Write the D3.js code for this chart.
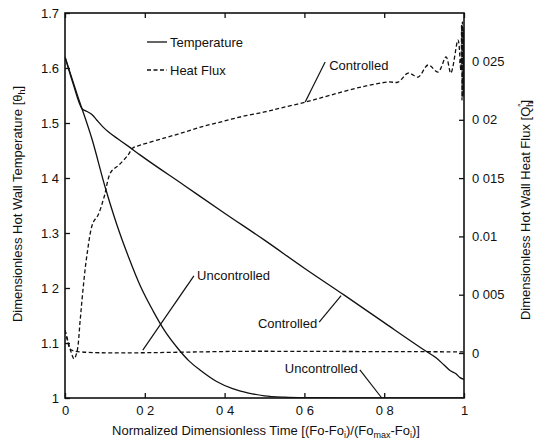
<!DOCTYPE html>
<html>
<head>
<meta charset="utf-8">
<script src="https://cdn.jsdelivr.net/npm/d3@7/dist/d3.min.js"></script>
<style>
  body { margin: 0; background: #fff; }
  svg text { font-family: "Liberation Sans", Arial, Helvetica, sans-serif; font-size: 13px; fill: #111; }
</style>
</head>
<body>
<div id="chart"></div>
<script>
// Data
const tTempUnc = [0, 0.03, 0.068, 0.1, 0.13, 0.16, 0.188, 0.221, 0.25, 0.283, 0.31, 0.34, 0.38, 0.42, 0.46, 0.5, 0.55, 0.6, 0.7, 0.8, 1]
const tempUnc = [1.62, 1.553, 1.47, 1.385, 1.315, 1.255, 1.205, 1.158, 1.122, 1.09, 1.068, 1.05, 1.03, 1.017, 1.009, 1.004, 1.0015, 1.0005, 1, 1, 1]

const tTempCtl = [0, 0.02, 0.0426, 0.055, 0.068, 0.08, 0.095, 0.11, 0.133, 0.16, 0.188, 0.3, 0.4, 0.5, 0.6, 0.7, 0.8, 0.907, 0.93, 0.95, 0.965, 0.98, 0.99, 1]
const tempCtl = [1.62, 1.572, 1.526, 1.521, 1.515, 1.505, 1.493, 1.483, 1.471, 1.457, 1.442, 1.386, 1.336, 1.287, 1.236, 1.187, 1.137, 1.084, 1.073, 1.06, 1.05, 1.044, 1.037, 1.034]

const tFluxCtl = [0, 0.008, 0.015, 0.0226, 0.03, 0.038, 0.045, 0.055, 0.07, 0.083, 0.098, 0.115, 0.135, 0.158, 0.17, 0.19, 0.25, 0.3, 0.35, 0.4, 0.45, 0.5, 0.541, 0.604, 0.667, 0.742, 0.81, 0.835, 0.86, 0.885, 0.91, 0.935, 0.955, 0.967, 0.985, 0.992, 0.994, 0.995, 0.996, 0.997, 0.998, 0.999, 1]
const fluxCtl = [0.00197, 0.00094, 0.0001, -0.0005, 0.0001, 0.0028, 0.0054, 0.0084, 0.01115, 0.01184, 0.01338, 0.01552, 0.01612, 0.01698, 0.01758, 0.01784, 0.01844, 0.01895, 0.01947, 0.0199, 0.02033, 0.02067, 0.02101, 0.02153, 0.02213, 0.02281, 0.02324, 0.02324, 0.02401, 0.02367, 0.0247, 0.0241, 0.02539, 0.02401, 0.02684, 0.02427, 0.02813, 0.0217, 0.0284, 0.0219, 0.0279, 0.0221, 0.0277]

const tFluxUnc = [0, 0.006, 0.012, 0.02, 0.5, 1]
const fluxUnc = [0.00197, 0.0011, 0.0004, 0.0002, 0.00015, 0.0001]

const xTicks = [0, 0.2, 0.4, 0.6, 0.8, 1]
const xTickLabels = ['0', '0 2', '0 4', '0 6', '0 8', '1']
const leftTicks = [1, 1.1, 1.2, 1.3, 1.4, 1.5, 1.6, 1.7]
const leftTickLabels = ['1', '1.1', '1 2', '1.3', '1 4', '1.5', '1.6', '1.7']
const rightTicks = [0, 0.005, 0.01, 0.015, 0.02, 0.025]
const rightTickLabels = ['0', '0 005', '0.01', '0 015', '0 02', '0 025']

// annotation anchors in data units (t, temperature)
const notes = [
  { text: 'Controlled', from: [0.652, 1.611], to: [0.602, 1.538], at: [0.662, 1.604], anchor: 'start' },
  { text: 'Controlled', from: [0.637, 1.138], to: [0.692, 1.186], at: [0.632, 1.136], anchor: 'end' },
  { text: 'Uncontrolled', from: [0.323, 1.222], to: [0.195, 1.087], at: [0.331, 1.222], anchor: 'start' },
  { text: 'Uncontrolled', from: [0.739, 1.051], to: [0.794, 1.0], at: [0.734, 1.053], anchor: 'end' }
]

function draw() {
  const dims = { width: 535, height: 446, left: 65, top: 13, ctrWidth: 399, ctrHeight: 385 }

  const svg = d3.select('#chart').append('svg')
    .attr('width', dims.width)
    .attr('height', dims.height)

  const ctr = svg.append('g')
    .attr('transform', `translate(${dims.left}, ${dims.top})`)

  // Scales
  const xScale = d3.scaleLinear().domain([0, 1]).range([0, dims.ctrWidth])
  const yTemp = d3.scaleLinear().domain([1, 1.7]).range([dims.ctrHeight, 0])
  const yFlux = d3.scaleLinear().domain([0, 0.025]).range([340, 48.5])

  const pairs = (ts, vs) => ts.map((t, i) => [t, vs[i]])

  const tempLine = d3.line()
    .x(d => xScale(d[0]))
    .y(d => yTemp(d[1]))
    .curve(d3.curveMonotoneX)
  const fluxLine = d3.line()
    .x(d => xScale(d[0]))
    .y(d => yFlux(d[1]))
    .curve(d3.curveCatmullRom.alpha(0.5))

  ctr.append('clipPath').attr('id', 'clip')
    .append('rect').attr('width', dims.ctrWidth).attr('height', dims.ctrHeight)

  const lines = ctr.append('g').attr('clip-path', 'url(#clip)')

  lines.selectAll('path.temp')
    .data([pairs(tTempUnc, tempUnc), pairs(tTempCtl, tempCtl)])
    .join('path')
    .attr('class', 'temp')
    .attr('d', tempLine)
    .attr('fill', 'none')
    .attr('stroke', '#111')
    .attr('stroke-width', 1.3)

  lines.selectAll('path.flux')
    .data([pairs(tFluxUnc, fluxUnc), pairs(tFluxCtl, fluxCtl)])
    .join('path')
    .attr('class', 'flux')
    .attr('d', fluxLine)
    .attr('fill', 'none')
    .attr('stroke', '#111')
    .attr('stroke-width', 1.3)
    .attr('stroke-dasharray', '4,2.5')

  // Axes (ticks point inward)
  const styleAxis = g => {
    g.select('.domain').remove()
    g.selectAll('.tick line').attr('stroke', '#111').attr('stroke-width', 1.3)
    g.selectAll('.tick text').attr('font-size', null).attr('font-family', null)
  }

  ctr.append('g')
    .attr('transform', `translate(0, ${dims.ctrHeight})`)
    .call(d3.axisBottom(xScale).tickValues(xTicks).tickFormat((d, i) => xTickLabels[i])
      .tickSizeInner(-5).tickSizeOuter(0).tickPadding(8))
    .call(styleAxis)

  ctr.append('g')
    .call(d3.axisTop(xScale).tickValues(xTicks).tickFormat('')
      .tickSizeInner(-5).tickSizeOuter(0))
    .call(styleAxis)

  ctr.append('g')
    .call(d3.axisLeft(yTemp).tickValues(leftTicks).tickFormat((d, i) => leftTickLabels[i])
      .tickSizeInner(-5).tickSizeOuter(0).tickPadding(6))
    .call(styleAxis)

  ctr.append('g')
    .attr('transform', `translate(${dims.ctrWidth}, 0)`)
    .call(d3.axisRight(yFlux).tickValues(rightTicks).tickFormat((d, i) => rightTickLabels[i])
      .tickSizeInner(-5).tickSizeOuter(0).tickPadding(8))
    .call(styleAxis)

  // frame
  ctr.append('rect')
    .attr('width', dims.ctrWidth)
    .attr('height', dims.ctrHeight)
    .attr('fill', 'none')
    .attr('stroke', '#111')
    .attr('stroke-width', 1.6)

  // Legend
  const legend = ctr.append('g')
  const legendItems = [
    { label: 'Temperature', dash: null, y: 29 },
    { label: 'Heat Flux', dash: '4,2.5', y: 57 }
  ]
  legend.selectAll('line')
    .data(legendItems)
    .join('line')
    .attr('x1', 82).attr('x2', 102)
    .attr('y1', d => d.y).attr('y2', d => d.y)
    .attr('stroke', '#111')
    .attr('stroke-width', 1.3)
    .attr('stroke-dasharray', d => d.dash)
  legend.selectAll('text')
    .data(legendItems)
    .join('text')
    .attr('x', 105)
    .attr('y', d => d.y + 4.5)
    .text(d => d.label)

  // Annotations
  const ann = ctr.append('g')
  ann.selectAll('line')
    .data(notes)
    .join('line')
    .attr('x1', d => xScale(d.from[0])).attr('y1', d => yTemp(d.from[1]))
    .attr('x2', d => xScale(d.to[0])).attr('y2', d => yTemp(d.to[1]))
    .attr('stroke', '#111')
    .attr('stroke-width', 1.2)
  ann.selectAll('text')
    .data(notes)
    .join('text')
    .attr('x', d => xScale(d.at[0]))
    .attr('y', d => yTemp(d.at[1]) + 4.5)
    .attr('text-anchor', d => d.anchor)
    .text(d => d.text)

  // Axis titles
  const xTitle = svg.append('text')
    .attr('x', 266).attr('y', 435)
    .attr('text-anchor', 'middle')
  xTitle.append('tspan').text('Normalized Dimensionless Time [(Fo-Fo')
  xTitle.append('tspan').attr('dy', 3).attr('font-size', 9).text('i')
  xTitle.append('tspan').attr('dy', -3).text(')/(Fo')
  xTitle.append('tspan').attr('dy', 3).attr('font-size', 9).text('max')
  xTitle.append('tspan').attr('dy', -3).text('-Fo')
  xTitle.append('tspan').attr('dy', 3).attr('font-size', 9).text('i')
  xTitle.append('tspan').attr('dy', -3).text(')]')

  const yTitle = svg.append('text')
    .attr('transform', 'translate(22, 204) rotate(-90)')
    .attr('text-anchor', 'middle')
  yTitle.append('tspan').text('Dimensionless Hot Wall Temperature [θ')
  yTitle.append('tspan').attr('dy', 3).attr('font-size', 9).text('h')
  yTitle.append('tspan').attr('dy', -3).text(']')

  const y2Title = svg.append('text')
    .attr('transform', 'translate(530, 210) rotate(-90)')
    .attr('text-anchor', 'middle')
  y2Title.append('tspan').text('Dimensionless Hot Wall Heat Flux [Q')
  y2Title.append('tspan').attr('dy', 3).attr('font-size', 9).text('h')
  y2Title.append('tspan').attr('dx', -5).attr('dy', -9).attr('font-size', 9).text('″')
  y2Title.append('tspan').attr('dy', 6).text(']')
}

draw()
</script>
</body>
</html>
